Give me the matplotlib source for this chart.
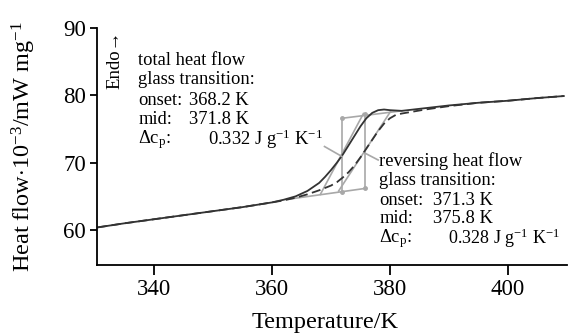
import matplotlib
matplotlib.use('Agg')
import matplotlib.pyplot as plt

plt.rcParams['font.family'] = ['Liberation Serif', 'DejaVu Serif']
plt.rcParams['mathtext.fontset'] = 'custom'
plt.rcParams['mathtext.rm'] = 'Liberation Serif'
plt.rcParams['mathtext.it'] = 'Liberation Serif:italic'

# total heat flow (solid)
t_total = [330.5, 335, 340, 345, 350, 355, 360, 362, 364, 366, 368, 369, 370, 371,
           372, 373, 374, 375, 376, 377, 378, 379, 380, 382, 385, 390, 395, 400, 405, 409.5]
h_total = [60.4, 61.0, 61.6, 62.2, 62.8, 63.4, 64.1, 64.5, 65.0, 65.8, 67.0, 67.9, 68.9, 70.0,
           71.2, 72.6, 74.0, 75.4, 76.6, 77.4, 77.8, 77.9, 77.8, 77.7, 78.0, 78.5, 78.9, 79.2, 79.6, 79.9]

# reversing heat flow (dashed)
t_rev = [330.5, 335, 340, 345, 350, 355, 360, 362, 364, 366, 368, 370, 371, 372, 373, 374,
         375, 376, 377, 378, 379, 380, 381, 382, 384, 386, 390, 395, 400, 405, 409.5]
h_rev = [60.4, 61.0, 61.6, 62.2, 62.8, 63.4, 64.1, 64.4, 64.8, 65.3, 65.9, 66.6, 67.1, 67.8, 68.6, 69.6,
         70.8, 72.1, 73.4, 74.7, 75.8, 76.6, 77.1, 77.3, 77.6, 77.9, 78.4, 78.9, 79.2, 79.6, 79.9]

# evaluation lines: baselines, inflection tangents, step heights at mid points
low_base_t = [363.0, 376.0]
low_base_h = [64.6, 66.2]
up_base_t = [371.9, 382.0]
up_base_h = [76.6, 77.7]
tan_total_t = [368.2, 375.5]
tan_total_h = [65.3, 77.3]
tan_rev_t = [371.3, 380.1]
tan_rev_h = [65.8, 77.6]
mid_total = 371.9
mid_total_h = [65.7, 76.6]
mid_rev = 375.8
mid_rev_h = [66.2, 77.3]

fig = plt.figure(figsize=(5.68, 3.34), dpi=100)
ax = fig.add_axes([0.1708, 0.2066, 0.827, 0.7094])

gray = '#a8a8a8'
ax.plot(low_base_t, low_base_h, color=gray, lw=1.2)
ax.plot(up_base_t, up_base_h, color=gray, lw=1.2)
ax.plot(tan_total_t, tan_total_h, color=gray, lw=1.2)
ax.plot(tan_rev_t, tan_rev_h, color=gray, lw=1.2)
ax.plot([mid_total, mid_total], mid_total_h, color=gray, lw=1.2, marker='o', ms=2.5)
ax.plot([mid_rev, mid_rev], mid_rev_h, color=gray, lw=1.2, marker='o', ms=2.5)

ax.plot(t_total, h_total, color='#333333', lw=1.3)
ax.plot(t_rev, h_rev, color='#333333', lw=1.3, ls=(0, (5, 2.5)))

# leader lines to the labels
ax.plot([368.9, mid_total], [72.4, 70.9], color=gray, lw=1.2)
ax.plot([mid_rev, 378.0], [71.4, 70.4], color=gray, lw=1.2)

ax.set_xlim(330.3, 410)
ax.set_ylim(54.8, 90)
ax.set_xticks([340, 360, 380, 400])
ax.set_yticks([60, 70, 80, 90])
ax.spines['top'].set_visible(False)
ax.spines['right'].set_visible(False)
for s in ['left', 'bottom']:
    ax.spines[s].set_linewidth(1.3)
ax.tick_params(direction='out', width=1.3, labelsize=16.5)
ax.tick_params(axis='x', length=7, pad=3)
ax.tick_params(axis='y', length=5, pad=3)

ax.set_xlabel('Temperature/K', fontsize=17.5)
ax.xaxis.set_label_coords(0.485, -0.2)
ax.set_ylabel(r'Heat flow$\cdot$10$^{-3}$/mW mg$^{-1}$', fontsize=17.5)
ax.yaxis.set_label_coords(-0.125, 0.5)

# text blocks (data coordinates)
fs = 13.3
def row(x, y, s, size=fs):
    ax.text(x, y, s, fontsize=size, va='center', ha='left')

row(337.3, 85.2, 'total heat flow')
row(337.3, 82.3, 'glass transition:')
row(337.3, 79.3, 'onset:')
row(345.9, 79.3, '368.2 K')
row(337.3, 76.4, 'mid:')
row(345.9, 76.4, '371.8 K')
row(337.3, 73.4, r'Δc$_\mathrm{p}$:')
row(349.2, 73.4, r'0.332 J g$^{-1}$ K$^{-1}$')

row(378.2, 70.2, 'reversing heat flow')
row(378.2, 67.4, 'glass transition:')
row(378.2, 64.4, 'onset:')
row(387.3, 64.4, '371.3 K')
row(378.2, 61.7, 'mid:')
row(387.3, 61.7, '375.8 K')
row(378.2, 58.8, r'Δc$_\mathrm{p}$:')
row(389.8, 58.8, r'0.328 J g$^{-1}$ K$^{-1}$', 13.0)

ax.text(333.4, 85.3, 'Endo→', fontsize=13.5, rotation=90, va='center', ha='center')

fig.savefig('out.png', dpi=100)
